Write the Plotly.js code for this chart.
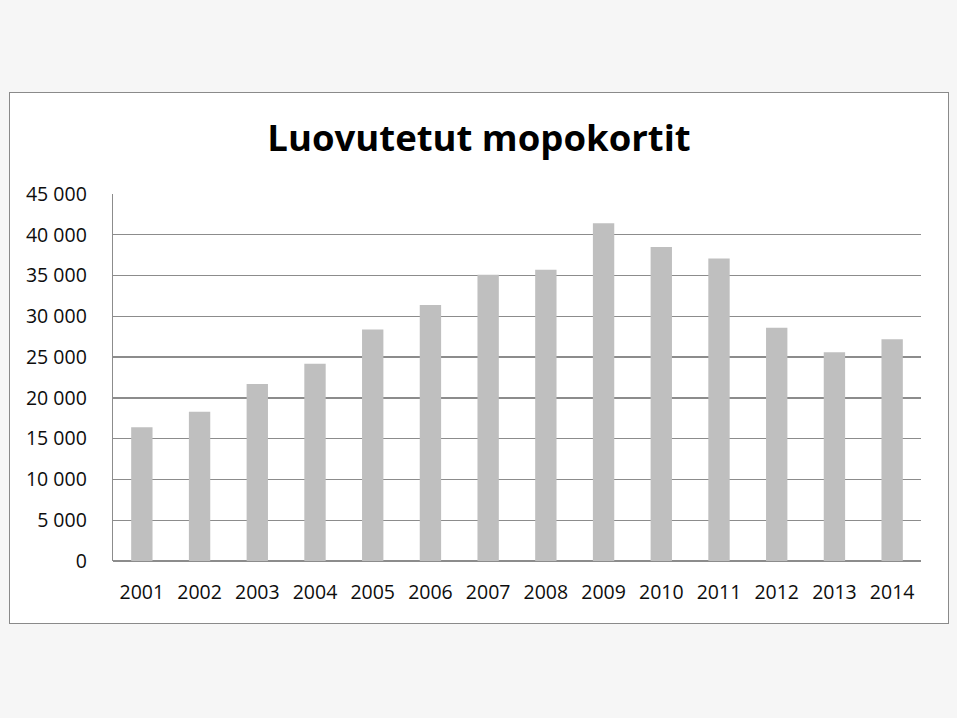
<!DOCTYPE html>
<html>
<head>
<meta charset="utf-8">
<script src="https://cdn.plot.ly/plotly-3.0.1.min.js"></script>
<style>
  html, body { margin: 0; padding: 0; background: #f6f6f6; width: 957px; height: 718px; overflow: hidden; }
  #box { position: absolute; left: 9px; top: 92px; width: 938px; height: 530px; border: 1px solid #8a8a8a; background: #fff; }
  #chart { width: 938px; height: 530px; }
</style>
</head>
<body>
<div id="box"><div id="chart"></div></div>
<script>
const years = ["2001","2002","2003","2004","2005","2006","2007","2008","2009","2010","2011","2012","2013","2014"];
const licences = [16400, 18300, 21700, 24200, 28400, 31400, 35100, 35700, 41400, 38500, 37100, 28600, 25600, 27200];
const yTickVals = [0, 5000, 10000, 15000, 20000, 25000, 30000, 35000, 40000, 45000];
const yTickText = ["0", "5 000", "10 000", "15 000", "20 000", "25 000", "30 000", "35 000", "40 000", "45 000"];
const chartTitle = "Luovutetut mopokortit";

const trace = {
  type: "bar",
  x: years,
  y: licences,
  marker: { color: "#bfbfbf", line: { width: 0 } },
  hoverinfo: "x+y"
};

const tickFont = { family: "Open Sans, Noto Sans, sans-serif", size: 19.5, color: "#0d0d0d" };

const layout = {
  width: 938,
  height: 530,
  margin: { l: 103, r: 27, t: 101, b: 62 },
  paper_bgcolor: "#ffffff",
  plot_bgcolor: "#ffffff",
  bargap: 0.63,
  showlegend: false,
  title: {
    text: "<b>" + chartTitle + "</b>",
    font: { family: "Open Sans, Noto Sans, sans-serif", size: 36.5, color: "#000" },
    x: 0.5, xanchor: "center", xref: "container",
    y: 0.915, yanchor: "middle", yref: "container"
  },
  xaxis: {
    type: "category",
    showgrid: false,
    showline: false,
    ticks: "",
    tickfont: tickFont,
    ticklabelstandoff: 17
  },
  yaxis: {
    range: [0, 45000],
    tickvals: yTickVals,
    ticktext: yTickText,
    showgrid: true,
    gridcolor: "#8c8c8c",
    gridwidth: 1.3,
    showline: true,
    linecolor: "#8c8c8c",
    linewidth: 1.3,
    zeroline: true,
    zerolinecolor: "#8c8c8c",
    zerolinewidth: 1.3,
    ticks: "",
    tickfont: tickFont,
    ticklabelstandoff: 21
  }
};

Plotly.newPlot("chart", [trace], layout, { displayModeBar: false, staticPlot: true });
</script>
</body>
</html>
